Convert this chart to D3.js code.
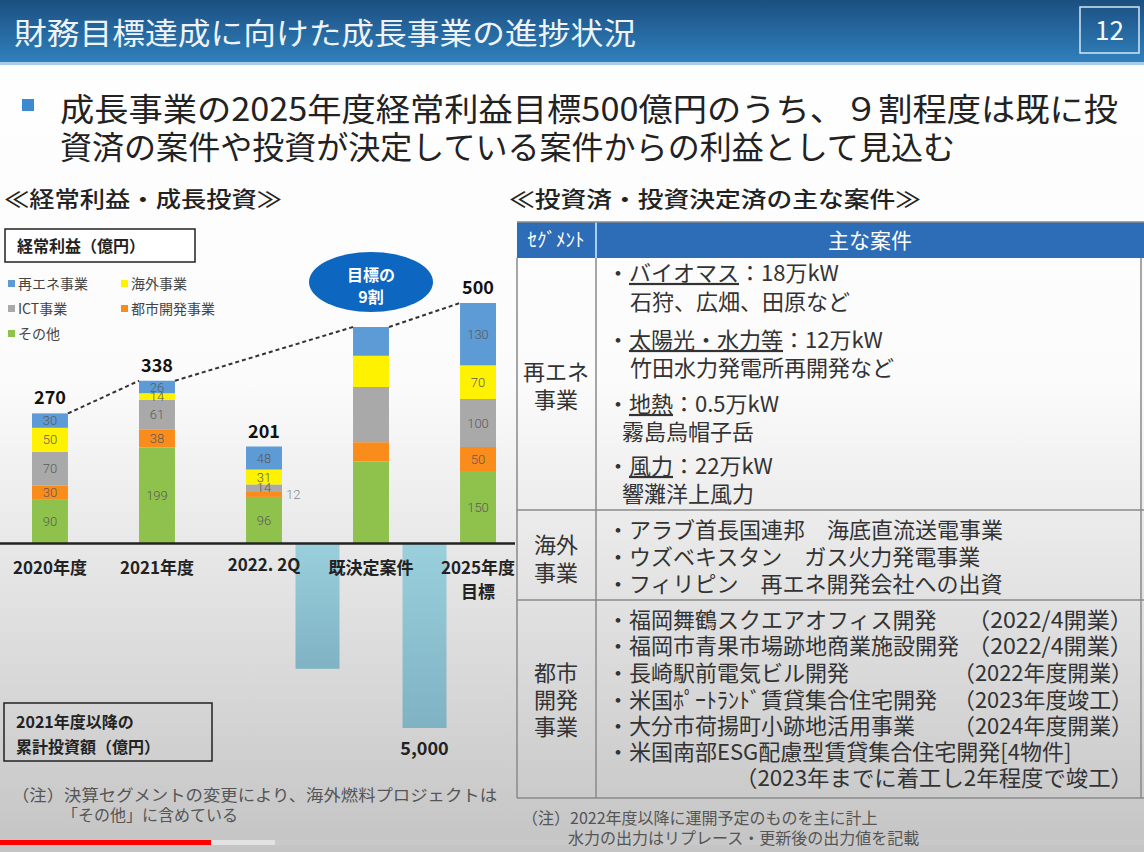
<!DOCTYPE html>
<html><head><meta charset="utf-8">
<script src="https://cdn.jsdelivr.net/npm/d3@7"></script>
<style>body{margin:0;background:#fff}svg{display:block;font-family:"Noto Sans CJK JP","Noto Sans",sans-serif}</style>
</head><body><svg id="c" width="1144" height="852"></svg>
<script>
// ---------- data ----------
const categories = ["2020年度","2021年度","2022. 2Q","既決定案件","2025年度"];
const catLabels2 = ["","","","","目標"];
const segmentKeys = ["その他","都市開発事業","ICT事業","海外事業","再エネ事業"];
const valOther    = [90,199,96,170,150];
const valUrban    = [30,38,12,40,50];
const valICT      = [70,61,14,115,100];
const valOverseas = [50,14,31,65,70];
const valRenew    = [30,26,48,60,130];
const totals      = [270,338,201,null,500];
const labelShown  = [true,true,true,false,true];
const investAnchors = ["2022. 2Q","既決定案件"];
const investValues  = [3400,5000];
const investLabels  = ["","5,000"];
const legendOrder   = ["再エネ事業","海外事業","ICT事業","都市開発事業","その他"];
const colors = {"その他":"#8fc24d","都市開発事業":"#fa8c1c","ICT事業":"#a9a9a9","海外事業":"#fff200","再エネ事業":"#5d9bd6"};

const title = "財務目標達成に向けた成長事業の進捗状況";
const pageNo = "12";
const bulletLines = ["成長事業の2025年度経常利益目標500億円のうち、９割程度は既に投","資済の案件や投資が決定している案件からの利益として見込む"];
const leftHeading = "≪経常利益・成長投資≫";
const rightHeading = "≪投資済・投資決定済の主な案件≫";
const profitBoxText = "経常利益（億円）";
const investBoxText = ["2021年度以降の","累計投資額（億円）"];
const leftNote = ["（注）決算セグメントの変更により、海外燃料プロジェクトは","「その他」に含めている"];
const rightNote = ["（注）2022年度以降に運開予定のものを主に計上","水力の出力はリプレース・更新後の出力値を記載"];
const targetBubble = ["目標の","9割"];

// table content
const renewItems = [
  {head:"バイオマス", rest:"：18万kW", sub:"石狩、広畑、田原など", subx:630},
  {head:"太陽光・水力等", rest:"：12万kW", sub:"竹田水力発電所再開発など", subx:630},
  {head:"地熱", rest:"：0.5万kW", sub:"霧島烏帽子岳", subx:622},
  {head:"風力", rest:"：22万kW", sub:"響灘洋上風力", subx:622}
];
const overseasItems = ["・アラブ首長国連邦　海底直流送電事業","・ウズベキスタン　ガス火力発電事業","・フィリピン　再エネ開発会社への出資"];
const urbanLeft  = ["・福岡舞鶴スクエアオフィス開発","・福岡市青果市場跡地商業施設開発","・長崎駅前電気ビル開発","・米国ﾎﾟｰﾄﾗﾝﾄﾞ賃貸集合住宅開発","・大分市荷揚町小跡地活用事業","・米国南部ESG配慮型賃貸集合住宅開発[4物件]",""];
const urbanRight = ["（2022/4開業）","（2022/4開業）","（2022年度開業）","（2023年度竣工）","（2024年度開業）","","（2023年までに着工し2年程度で竣工）"];

// ---------- drawing ----------
const svg = d3.select("#c");
const defs = svg.append("defs");
const bg = defs.append("linearGradient").attr("id","bg").attr("x1",0).attr("y1",0).attr("x2",0).attr("y2",1);
bg.append("stop").attr("offset","0%").attr("stop-color","#ffffff");
bg.append("stop").attr("offset","45%").attr("stop-color","#fbfbfb");
bg.append("stop").attr("offset","100%").attr("stop-color","#c4c4c4");
const hg = defs.append("linearGradient").attr("id","hg").attr("x1",0).attr("y1",0).attr("x2",0).attr("y2",1);
hg.append("stop").attr("offset","0%").attr("stop-color","#1b4f80");
hg.append("stop").attr("offset","100%").attr("stop-color","#3080bd");
const ig = defs.append("linearGradient").attr("id","ig").attr("x1",0).attr("y1",0).attr("x2",0).attr("y2",1);
ig.append("stop").attr("offset","0%").attr("stop-color","#9acfdc");
ig.append("stop").attr("offset","100%").attr("stop-color","#7fb3c4");

svg.append("rect").attr("width",1144).attr("height",852).attr("fill","url(#bg)");

// header
svg.append("rect").attr("x",0).attr("y",0).attr("width",1144).attr("height",62).attr("fill","url(#hg)");
svg.append("rect").attr("x",0).attr("y",62).attr("width",1144).attr("height",3).attr("fill","#a8cde9");
svg.append("text").attr("x",14).attr("y",44).attr("font-size",30).attr("fill","#eef3f8")
  .attr("textLength",622).attr("lengthAdjust","spacingAndGlyphs").text(title);
svg.append("rect").attr("x",1080).attr("y",7).attr("width",59).attr("height",46)
  .attr("fill","none").attr("stroke","#d4e6f4").attr("stroke-width",1.5);
svg.append("text").attr("x",1109.5).attr("y",40).attr("text-anchor","middle").attr("font-size",26).attr("fill","#f4f8fb").text(pageNo);

// bullet
svg.append("rect").attr("x",22).attr("y",99).attr("width",12).attr("height",12).attr("fill","#3d8ad0");
svg.append("text").attr("x",60).attr("y",121).attr("font-size",32).attr("fill","#222")
  .attr("textLength",1058).attr("lengthAdjust","spacingAndGlyphs").text(bulletLines[0]);
svg.append("text").attr("x",60).attr("y",159).attr("font-size",32).attr("fill","#222")
  .attr("textLength",895).attr("lengthAdjust","spacingAndGlyphs").text(bulletLines[1]);

// section headings
svg.append("text").attr("x",4).attr("y",207).attr("font-size",22).attr("font-weight",500).attr("fill","#222")
  .attr("textLength",278).attr("lengthAdjust","spacingAndGlyphs").text(leftHeading);
svg.append("text").attr("x",509).attr("y",207).attr("font-size",22).attr("font-weight",500).attr("fill","#222")
  .attr("textLength",412).attr("lengthAdjust","spacingAndGlyphs").text(rightHeading);

// ---------- chart ----------
const x = d3.scaleBand().domain(categories).range([32,496]).paddingInner(0.664).paddingOuter(0);
const y = d3.scaleLinear().domain([0,500]).range([543,303]);
const yInv = d3.scaleLinear().domain([0,5000]).range([543,728]);

const table = categories.map((c,i)=>({cat:c, "その他":valOther[i], "都市開発事業":valUrban[i], "ICT事業":valICT[i], "海外事業":valOverseas[i], "再エネ事業":valRenew[i], idx:i}));
const stack = d3.stack().keys(segmentKeys)(table);

// investment bars (below baseline, between categories)
const invG = svg.append("g");
investAnchors.forEach((a,i)=>{
  const cx = x(a) + x.bandwidth()/2 + x.step()/2;
  const w = 44;
  invG.append("rect").attr("x",cx-w/2).attr("y",yInv(0)).attr("width",w).attr("height",yInv(investValues[i])-yInv(0)).attr("fill","url(#ig)");
  if (investLabels[i]) invG.append("text").attr("x",cx).attr("y",yInv(investValues[i])+27).attr("text-anchor","middle")
    .attr("font-size",18).attr("font-weight",700).attr("fill","#222").text(investLabels[i]);
});

// stacked bars
const g = svg.append("g");
stack.forEach(layer=>{
  const key = layer.key;
  layer.forEach(d=>{
    const c = d.data.cat;
    g.append("rect").attr("x",x(c)).attr("y",y(d[1])).attr("width",x.bandwidth()).attr("height",y(d[0])-y(d[1])).attr("fill",colors[key]);
  });
});
// segment labels
stack.forEach(layer=>{
  layer.forEach(d=>{
    const i = d.data.idx; if(!labelShown[i]) return;
    const v = d[1]-d[0];
    const cy = (y(d[0])+y(d[1]))/2;
    const outside = v < 13;
    g.append("text").attr("x", outside ? x(d.data.cat)+x.bandwidth()+4 : x(d.data.cat)+x.bandwidth()/2)
      .attr("y",cy).attr("dy","0.36em").attr("text-anchor", outside ? "start":"middle")
      .attr("font-size",13).attr("fill", outside ? "#888":"#5a5a5a").attr("font-family","Roboto, 'Noto Sans', sans-serif").attr("font-weight",300).text(v);
  });
});
// totals
categories.forEach((c,i)=>{
  if(totals[i]==null) return;
  g.append("text").attr("x",x(c)+x.bandwidth()/2).attr("y",y(totals[i])-9).attr("text-anchor","middle")
    .attr("font-size",18).attr("font-weight",700).attr("fill","#111").text(totals[i]);
});
// dashed connectors
const sums = table.map(d=>segmentKeys.reduce((s,k)=>s+d[k],0));
const conn = [[0,1],[1,3],[3,4]];
conn.forEach(([a,b])=>{
  g.append("line").attr("x1",x(categories[a])+x.bandwidth()).attr("y1",y(sums[a]))
    .attr("x2",x(categories[b])).attr("y2",y(sums[b]))
    .attr("stroke","#333").attr("stroke-width",2).attr("stroke-dasharray","4,3");
});
// baseline
svg.append("line").attr("x1",0).attr("x2",515).attr("y1",y(0)+0.5).attr("y2",y(0)+0.5).attr("stroke","#222").attr("stroke-width",2.5);
// x labels
categories.forEach((c,i)=>{
  const cx = x(c)+x.bandwidth()/2;
  svg.append("text").attr("x",cx).attr("y", c==="2022. 2Q" ? 571 : 574).attr("text-anchor","middle").attr("font-size",17).attr("font-weight",700).attr("fill","#222").text(c);
  if(catLabels2[i]) svg.append("text").attr("x",cx).attr("y",598).attr("text-anchor","middle").attr("font-size",17).attr("font-weight",700).attr("fill","#222").text(catLabels2[i]);
});

// target bubble
const bx = x("既決定案件")+x.bandwidth()/2;
svg.append("ellipse").attr("cx",bx).attr("cy",282).attr("rx",62).attr("ry",30).attr("fill","#0d66bf");
svg.append("text").attr("x",bx).attr("y",281).attr("text-anchor","middle").attr("font-size",16).attr("font-weight",700).attr("fill","#fff").text(targetBubble[0]);
svg.append("text").attr("x",bx).attr("y",303).attr("text-anchor","middle").attr("font-size",16).attr("font-weight",700).attr("fill","#fff").text(targetBubble[1]);

// profit box + legend
svg.append("rect").attr("x",5).attr("y",229).attr("width",190).attr("height",33).attr("fill","#fff").attr("stroke","#222").attr("stroke-width",1.5);
svg.append("text").attr("x",17).attr("y",252).attr("font-size",16).attr("font-weight",700).attr("fill","#222").text(profitBoxText);
const legPos = [[8,284],[121,284],[8,309],[121,309],[8,334]];
legendOrder.forEach((k,i)=>{
  const [lx,ly] = legPos[i];
  svg.append("rect").attr("x",lx).attr("y",ly-4).attr("width",7).attr("height",7).attr("fill",colors[k]);
  svg.append("text").attr("x",lx+10).attr("y",ly).attr("dy","0.36em").attr("font-size",14).attr("fill","#444").text(k);
});

// investment box
svg.append("rect").attr("x",4).attr("y",703).attr("width",208).attr("height",58).attr("fill","none").attr("stroke","#222").attr("stroke-width",1.5);
svg.append("text").attr("x",16).attr("y",728).attr("font-size",16).attr("font-weight",700).attr("fill","#222").text(investBoxText[0]);
svg.append("text").attr("x",16).attr("y",753).attr("font-size",16).attr("font-weight",700).attr("fill","#222").text(investBoxText[1]);

// left notes
svg.append("text").attr("x",12).attr("y",801).attr("font-size",16).attr("fill","#555")
  .attr("textLength",485).attr("lengthAdjust","spacingAndGlyphs").text(leftNote[0]);
svg.append("text").attr("x",62).attr("y",821).attr("font-size",16).attr("fill","#555").text(leftNote[1]);

// video progress bar
svg.append("rect").attr("x",0).attr("y",840).attr("width",1144).attr("height",5).attr("fill","#c9c9c9").attr("opacity",0.9);
svg.append("rect").attr("x",211).attr("y",840).attr("width",64).attr("height",5).attr("fill","#e2e2e2");
svg.append("rect").attr("x",0).attr("y",840).attr("width",211).attr("height",5).attr("fill","#ff0000");

// ---------- table ----------
const T = svg.append("g");
T.append("rect").attr("x",517).attr("y",222).attr("width",627).attr("height",36).attr("fill","#2d6cb6");
T.append("line").attr("x1",596).attr("x2",596).attr("y1",222).attr("y2",258).attr("stroke","#a6d0f2").attr("stroke-width",2);
T.append("text").attr("x",556).attr("y",247).attr("text-anchor","middle").attr("font-size",19).attr("fill","#fff").text("ｾｸﾞﾒﾝﾄ");
T.append("text").attr("x",870).attr("y",248).attr("text-anchor","middle").attr("font-size",21).attr("fill","#fff").text("主な案件");
const lineC = "#8a8a8a";
[[517,258,517,798],[596,258,596,798],[1141,258,1141,798],[517,510,1144,510],[517,600,1144,600],[517,798,1144,798],[517,222,1144,222]]
  .forEach(([x1,y1,x2,y2])=>T.append("line").attr("x1",x1).attr("y1",y1).attr("x2",x2).attr("y2",y2).attr("stroke",lineC).attr("stroke-width",1.5));

const tc = "#333", fs = 22;
function rowLabel(lines, cy0, step){
  lines.forEach((t,i)=>T.append("text").attr("x",556).attr("y",cy0+i*step).attr("dy","0.36em").attr("text-anchor","middle").attr("font-size",fs).attr("fill",tc).text(t));
}
rowLabel(["再エネ","事業"],372,28);
rowLabel(["海外","事業"],545,28);
rowLabel(["都市","開発","事業"],673,27);

const renewY = [[273,302],[340,368],[404,432],[466,494]];
renewItems.forEach((it,i)=>{
  const t = T.append("text").attr("x",607).attr("y",renewY[i][0]).attr("dy","0.36em").attr("font-size",fs).attr("fill",tc);
  t.append("tspan").text("・");
  t.append("tspan").style("text-decoration","underline").text(it.head);
  t.append("tspan").text(it.rest);
  T.append("text").attr("x",it.subx).attr("y",renewY[i][1]).attr("dy","0.36em").attr("font-size",fs).attr("fill",tc).text(it.sub);
});
const ovY = [530,557,584];
overseasItems.forEach((s,i)=>T.append("text").attr("x",607).attr("y",ovY[i]).attr("dy","0.36em").attr("font-size",fs).attr("fill",tc).text(s));
const urY = [620,646,673,700,726,752,778];
const urRightLen = [166,166,180,180,180,0,398];
urbanLeft.forEach((l,i)=>{
  if(l) T.append("text").attr("x",607).attr("y",urY[i]).attr("dy","0.36em").attr("font-size",fs).attr("fill",tc).text(l);
  const r = urbanRight[i];
  if(r) T.append("text").attr("x",1133-urRightLen[i]).attr("y",urY[i]).attr("dy","0.36em").attr("font-size",fs).attr("fill",tc)
    .attr("textLength",urRightLen[i]).attr("lengthAdjust","spacingAndGlyphs").text(r);
});

// right notes
svg.append("text").attr("x",522).attr("y",824).attr("font-size",16).attr("fill","#555").text(rightNote[0]);
svg.append("text").attr("x",568).attr("y",844).attr("font-size",16).attr("fill","#555").text(rightNote[1]);
</script></body></html>
